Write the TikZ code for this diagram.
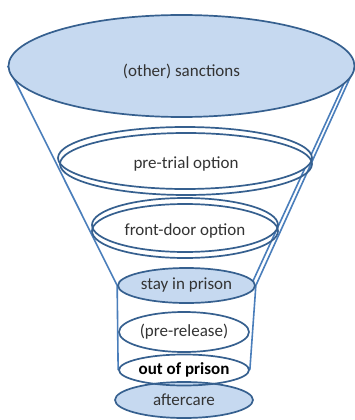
\documentclass[tikz,border=0pt]{standalone}
\usepackage{fontspec}
\setmainfont{Carlito}
\usetikzlibrary{shapes.geometric,backgrounds}
\definecolor{fillb}{HTML}{C6D9F0}
\definecolor{lineb}{HTML}{4A7EBB}
\definecolor{edgeb}{HTML}{36608F}
\definecolor{txt}{HTML}{333333}
\begin{document}
\begin{tikzpicture}[x=1pt,y=-1pt,
  ell/.style={ellipse, draw=edgeb, line width=1.7pt, inner sep=0pt,
    font=\fontsize{17}{20}\selectfont, text=txt},
  lbl/.style={inner sep=0pt, font=\fontsize{17}{20}\selectfont, text=txt},
  funnel/.style={draw=lineb, line width=1.6pt}]
\useasboundingbox (0,0) rectangle (355,420);
\node[ell, fill=fillb, minimum width=346pt, minimum height=102pt] (sanc) at (181.5,66) {};
\node[lbl] (sanct) at ([yshift=-5pt]sanc.center) {(other) sanctions};
\node[ell, fill=white, minimum width=254pt, minimum height=62pt] (pt1) at (185,158) {};
\node[ell, minimum width=252pt, minimum height=62pt] (pt2) at (186,164) {pre-trial option};
\node[ell, fill=white, minimum width=186pt, minimum height=54pt] (fd1) at (185,225) {};
\node[ell, minimum width=186pt, minimum height=54pt] (fd2) at (185,231) {front-door option};
\node[ell, fill=fillb, minimum width=137pt, minimum height=35pt] (stay) at (186.5,285.5) {stay in prison};
\node[ell, fill=white, minimum width=130pt, minimum height=40pt] (pre) at (184,332) {(pre-release)};
\node[ell, fill=fillb, minimum width=138pt, minimum height=36pt] (after) at (184,400) {aftercare};
\node[ell, minimum width=130pt, minimum height=31pt, text=black, font=\fontsize{17}{20}\selectfont\bfseries] (outp) at (184,370) {out of prison};
\begin{scope}[on background layer]
\fill[white] (0,0) rectangle (355,420);
\draw[funnel] (sanc.west) -- (stay.west);
\draw[funnel] (sanc.east) -- (stay.east);
\draw[funnel] ([xshift=-2pt,yshift=3pt]sanc.east) -- ([xshift=-4pt,yshift=2pt]stay.east);
\draw[funnel] (stay.west) -- (outp.west);
\draw[funnel] (stay.east) -- (outp.east);
\end{scope}
\end{tikzpicture}
\end{document}
